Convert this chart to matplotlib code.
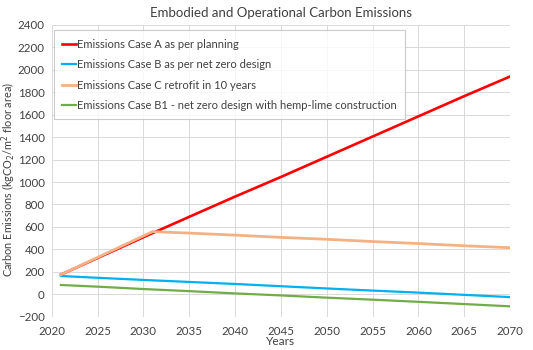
import matplotlib
matplotlib.use("Agg")
import matplotlib.pyplot as plt

plt.rcParams['font.family'] = ['Lato', 'DejaVu Sans']

# data
years_a = [2021, 2031, 2035, 2040, 2045, 2050, 2055, 2060, 2065, 2070]
case_a = [175, 545, 690, 870, 1045, 1225, 1405, 1585, 1765, 1940]

years_c = [2021, 2031, 2035, 2040, 2045, 2050, 2055, 2060, 2065, 2070]
case_c = [175, 558, 545, 527, 507, 490, 470, 452, 432, 415]

years_b = [2021, 2025, 2030, 2035, 2040, 2045, 2050, 2055, 2060, 2065, 2070]
case_b = [163, 147, 128, 110, 92, 72, 52, 33, 15, -5, -25]
case_b1 = [83, 68, 47, 28, 8, -10, -30, -48, -67, -87, -107]

labels = ["Emissions Case A as per planning",
          "Emissions Case B as per net zero design",
          "Emissions Case C retrofit in 10 years",
          "Emissions Case B1 - net zero design with hemp-lime construction"]
colors = ["#ff0000", "#00b0f0", "#f4b183", "#70ad47"]

fig = plt.figure(figsize=(5.33, 3.5), dpi=100)
ax = fig.add_axes([0.097, 0.095, 0.86, 0.834])

la, = ax.plot(years_a, case_a, color=colors[0], lw=1.9, zorder=3)
lb, = ax.plot(years_b, case_b, color=colors[1], lw=1.6, zorder=3)
lc, = ax.plot(years_c, case_c, color=colors[2], lw=2.0, zorder=4)
lb1, = ax.plot(years_b, case_b1, color=colors[3], lw=1.6, zorder=3)

ax.set_xlim(2020, 2070)
ax.set_ylim(-200, 2400)
ax.set_xticks(range(2020, 2071, 5))
ax.set_yticks(range(-200, 2401, 200))
ax.grid(True, color="#d9d9d9", lw=0.7)
ax.set_axisbelow(True)
for s in ax.spines.values():
    s.set_visible(False)
ax.tick_params(length=0, labelsize=8.3, colors="#404040")
ax.tick_params(axis="x", pad=7)
ax.tick_params(axis="y", pad=5)

ax.set_title("Embodied and Operational Carbon Emissions", fontsize=9.5, color="#404040", pad=6)
ax.set_xlabel("Years", fontsize=8.6, color="#404040", labelpad=-1)
ax.set_ylabel("Carbon Emissions (kgCO$_2$/m$^2$ floor area)", fontsize=7.8, color="#404040")
ax.yaxis.set_label_coords(-0.074, 0.47)

leg = ax.legend([la, lb, lc, lb1], labels, loc="upper left", bbox_to_anchor=(-0.008, 1.0),
                fontsize=8, frameon=True, fancybox=False, edgecolor="#bfbfbf",
                handlelength=1.3, handletextpad=0.05, labelspacing=0.85, borderpad=0.75)
leg.get_frame().set_linewidth(0.8)
for t in leg.get_texts():
    t.set_color("#404040")

fig.savefig("out.png", dpi=100)
